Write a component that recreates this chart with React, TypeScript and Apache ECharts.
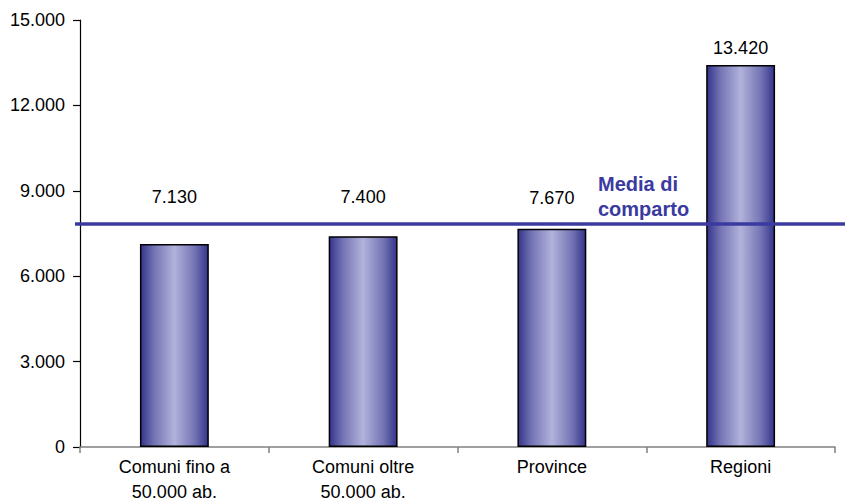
import React, { useEffect, useRef } from "react";
import * as echarts from "echarts";

const categories = ["Comuni fino a\n50.000 ab.", "Comuni oltre\n50.000 ab.", "Province", "Regioni"];
const values = [7130, 7400, 7670, 13420];
const average = 7850;
const averageLabel = "Media di\ncomparto";
const yTicks = [0, 3000, 6000, 9000, 12000, 15000];

const fmt = (v: number) => String(v).replace(/\B(?=(\d{3})+(?!\d))/g, ".");

export default function App() {
  const ref = useRef<HTMLDivElement>(null);
  useEffect(() => {
    document.body.style.margin = "0";
    if (!ref.current) return;
    const chart = echarts.init(ref.current, undefined, { renderer: "svg" });
    const font = "'Liberation Sans', Arial, sans-serif";
    const labelDist = [38, 30, 22, 8];
    const barGrad = new echarts.graphic.LinearGradient(0, 0, 1, 0, [
      { offset: 0, color: "#34348c" },
      { offset: 0.2, color: "#7474b4" },
      { offset: 0.5, color: "#b2b2dc" },
      { offset: 0.8, color: "#7474b4" },
      { offset: 1, color: "#34348c" },
    ]);
    chart.setOption({
      animation: false,
      textStyle: { fontFamily: font },
      grid: { left: 80, right: 10, top: 20, bottom: 50, containLabel: false },
      xAxis: {
        type: "category",
        data: categories,
        axisLine: { lineStyle: { color: "#808080", width: 1.5 } },
        axisTick: { show: true, length: 6, lineStyle: { color: "#808080", width: 1.5 } },
        axisLabel: { color: "#000", fontSize: 18, lineHeight: 25, margin: 7, fontFamily: font },
      },
      yAxis: {
        type: "value",
        min: 0,
        max: yTicks[yTicks.length - 1],
        interval: yTicks[1] - yTicks[0],
        axisLine: { show: true, lineStyle: { color: "#000", width: 1.2 } },
        axisTick: { show: true, length: 7, lineStyle: { color: "#000", width: 1.2 } },
        axisLabel: { color: "#000", fontSize: 18, margin: 15, formatter: (v: number) => fmt(v), fontFamily: font },
        splitLine: { show: false },
      },
      series: [
        {
          type: "bar",
          barWidth: "36.5%",
          data: values.map((v, i) => ({
            value: v,
            label: { distance: labelDist[i] },
          })),
          itemStyle: { color: barGrad, borderColor: "#000", borderWidth: 1.5 },
          label: {
            show: true,
            position: "top",
            color: "#000",
            fontSize: 18,
            fontFamily: font,
            formatter: (p: any) => fmt(p.value),
          },
          markLine: {
            silent: true,
            symbol: "none",
            label: { show: false },
            lineStyle: { color: "#3a3aa0", width: 3.5, type: "solid" },
            data: [[{ x: 75, yAxis: average }, { x: 845, yAxis: average }]],
          },
        },
      ],
      graphic: [
        {
          type: "text",
          left: 598,
          top: 171,
          style: {
            text: averageLabel,
            fill: "#3a3aa0",
            font: `bold 20px ${font}`,
            lineHeight: 25,
          },
        },
      ],
    });
    return () => chart.dispose();
  }, []);
  return <div ref={ref} style={{ width: 845, height: 504 }} />;
}
